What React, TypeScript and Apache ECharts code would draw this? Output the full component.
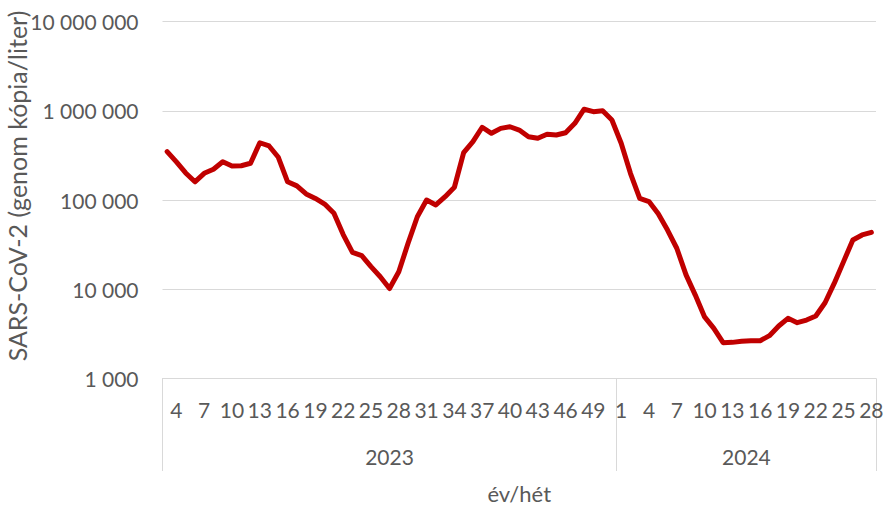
import React, { useEffect, useRef } from "react";
import * as echarts from "echarts";

const weeks2023 = [3, 4, 5, 6, 7, 8, 9, 10, 11, 12, 13, 14, 15, 16, 17, 18, 19, 20, 21, 22, 23, 24, 25, 26, 27, 28, 29, 30, 31, 32, 33, 34, 35, 36, 37, 38, 39, 40, 41, 42, 43, 44, 45, 46, 47, 48, 49, 50, 51];
const weeks2024 = [1, 2, 3, 4, 5, 6, 7, 8, 9, 10, 11, 12, 13, 14, 15, 16, 17, 18, 19, 20, 21, 22, 23, 24, 25, 26, 27, 28];

const values2023 = [
  348000, 267000, 201000, 160000, 199000, 221000, 268000, 240000, 242000, 258000,
  438000, 403000, 301000, 160000, 144000, 117000, 104000, 90000, 71000, 41000,
  25900, 23800, 17900, 13800, 10200, 15700, 32700, 65000, 100000, 88000,
  109000, 139000, 339000, 450000, 653000, 559000, 635000, 662000, 608000, 512000,
  491000, 545000, 535000, 567000, 723000, 1040000, 976000, 1000000, 787000,
];
const values2024 = [
  432000, 199000, 104000, 96000, 70000, 46000, 28800, 14500, 8600, 4900,
  3650, 2520, 2540, 2610, 2650, 2650, 3020, 3870, 4720, 4220,
  4520, 5010, 7060, 11700, 20400, 35600, 40600, 43400,
];

const yearLabels = ["2023", "2024"];
const yAxisTitle = "SARS-CoV-2 (genom kópia/liter)";
const xAxisTitle = "év/hét";

const categories = [
  ...weeks2023.map((w) => String(w)),
  ...weeks2024.map((w) => String(w)),
];
const values = [...values2023, ...values2024];
const n2023 = weeks2023.length;
const n2024 = weeks2024.length;
const yearLabelIdx2023 = Math.floor(n2023 / 2);
const yearLabelIdx2024 = n2023 + Math.floor(n2024 / 2);

const fmt = (v: number) => String(Math.round(v)).replace(/\B(?=(\d{3})+(?!\d))/g, " ");

const FONT = "Lato";
const TXT = "#595959";
const GRID = "#d9d9d9";

export default function App() {
  const ref = useRef<HTMLDivElement>(null);
  useEffect(() => {
    document.body.style.margin = "0";
    const chart = echarts.init(ref.current!, undefined, { renderer: "svg" });
    chart.setOption({
      animation: false,
      backgroundColor: "#ffffff",
      textStyle: { fontFamily: FONT, color: TXT },
      grid: { left: 162.5, right: 9, top: 21.5, bottom: 127.5, containLabel: false, outerBoundsMode: "none" },
      xAxis: [
        {
          type: "category",
          data: categories,
          boundaryGap: true,
          position: "bottom",
          axisLine: { show: true, lineStyle: { color: GRID, width: 1 } },
          axisTick: { show: false },
          axisLabel: {
            interval: (i: number) => Number(categories[i]) % 3 === 1,
            margin: 20,
            fontSize: 21,
            fontFamily: FONT,
            color: TXT,
          },
          splitLine: { show: false },
          name: xAxisTitle,
          nameLocation: "middle",
          nameGap: 104,
          nameTextStyle: { fontSize: 22, fontFamily: FONT, color: TXT },
        },
        {
          type: "category",
          data: categories,
          boundaryGap: true,
          position: "bottom",
          offset: 0,
          axisLine: { show: false },
          axisTick: {
            show: true,
            interval: (i: number) => i === 0 || i === n2023,
            length: 92.5,
            lineStyle: { color: GRID, width: 1 },
          },
          axisLabel: {
            interval: (i: number) => i === yearLabelIdx2023 || i === yearLabelIdx2024,
            margin: 67,
            fontSize: 21,
            fontFamily: FONT,
            color: TXT,
            formatter: (_v: string, i: number) =>
              i === yearLabelIdx2023 ? `{a|${yearLabels[0]}}` : `{b|${yearLabels[1]}}`,
            rich: {
              a: { fontSize: 21, fontFamily: FONT, color: TXT },
              b: { fontSize: 21, fontFamily: FONT, color: TXT, padding: [0, 9, 0, 0] },
            },
          },
          splitLine: { show: false },
        },
      ],
      yAxis: {
        type: "log",
        logBase: 10,
        min: 1000,
        max: 10000000,
        axisLine: { show: false },
        axisTick: { show: false },
        axisLabel: {
          formatter: (v: number) => fmt(v),
          margin: 24,
          fontSize: 21,
          fontFamily: FONT,
          color: TXT,
        },
        splitLine: { show: true, lineStyle: { color: GRID, width: 1 } },
        name: yAxisTitle,
        nameLocation: "middle",
        nameGap: 133,
        nameMoveOverlap: false,
        nameTextStyle: { fontSize: 25, fontFamily: FONT, color: TXT, padding: [0, 0, 0, 28] },
      },
      series: [
        {
          type: "line",
          data: values,
          xAxisIndex: 0,
          symbol: "none",
          showSymbol: false,
          smooth: false,
          lineStyle: { color: "#C00000", width: 5, cap: "round", join: "round" },
        },
      ],
    });
    return () => chart.dispose();
  }, []);
  return (
    <div
      ref={ref}
      style={{ position: "fixed", left: 0, top: 0, width: 885, height: 506, background: "#fff" }}
    />
  );
}
